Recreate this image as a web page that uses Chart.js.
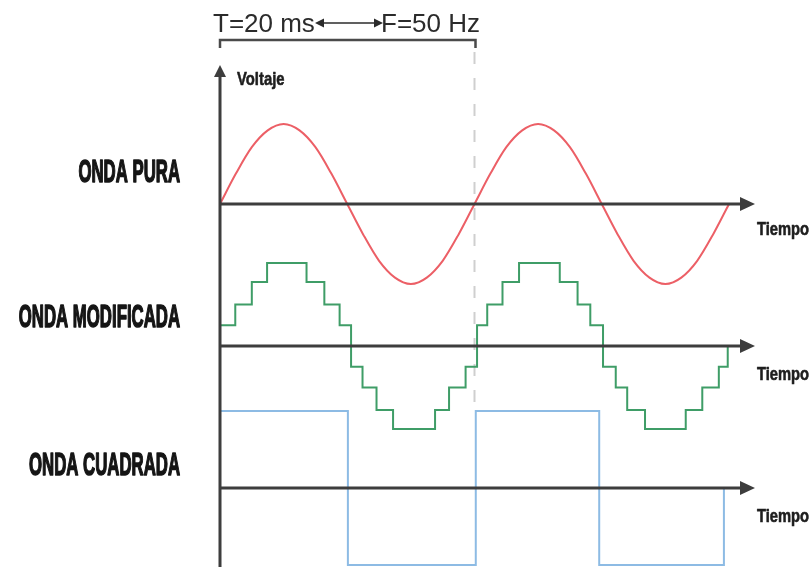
<!DOCTYPE html>
<html>
<head>
<meta charset="utf-8">
<script src="https://cdn.jsdelivr.net/npm/chart.js@4/dist/chart.umd.min.js"></script>
<style>
  html, body { margin: 0; padding: 0; background: #fff; }
  #wrap { width: 812px; height: 567px; position: relative; }
</style>
</head>
<body>
<div id="wrap"><canvas id="waves"></canvas></div>
<script>
// time in ms, values normalised to peak = 1

// pure sine, sampled every 1.25 ms
const sineTimes = [0, 1.25, 2.5, 3.75, 5, 6.25, 7.5, 8.75, 10, 11.25, 12.5, 13.75, 15, 16.25, 17.5, 18.75,
                   20, 21.25, 22.5, 23.75, 25, 26.25, 27.5, 28.75, 30, 31.25, 32.5, 33.75, 35, 36.25, 37.5, 38.75, 40];
const sineValues = [0, 0.38, 0.71, 0.92, 1, 0.92, 0.71, 0.38, 0, -0.38, -0.71, -0.92, -1, -0.92, -0.71, -0.38,
                    0, 0.38, 0.71, 0.92, 1, 0.92, 0.71, 0.38, 0, -0.38, -0.71, -0.92, -1, -0.92, -0.71, -0.38, 0];

// modified (stepped) wave: each level holds from its time until the next one
const stepTimes = [0, 0, 1.2, 2.5, 3.7, 6.8, 8.2, 9.4, 10.3, 11.2, 12.3, 13.6, 16.9, 18.0, 19.3,
                   20.2, 21.0, 22.2, 23.5, 26.7, 28.1, 29.1, 30.1, 31.1, 32.0, 33.4, 36.6, 37.9, 39.2, 39.9];
const stepValues = [0, 0.25, 0.5, 0.77, 1, 0.77, 0.5, 0.25, -0.25, -0.5, -0.77, -1, -0.77, -0.5, -0.25,
                    0.25, 0.5, 0.77, 1, 0.77, 0.5, 0.25, -0.25, -0.5, -0.77, -1, -0.77, -0.5, -0.25, 0];

// square wave
const squareTimes = [0, 0, 10.05, 20.1, 29.8, 39.6];
const squareValues = [0, 1, -1, 1, -1, 0];

const waveLabels = ['ONDA PURA', 'ONDA MODIFICADA', 'ONDA CUADRADA'];
const periodMs = 20;
const topLeftText = 'T=20 ms';
const topRightText = 'F=50 Hz';
const xTitle = 'Tiempo';
const yTitle = 'Voltaje';

const toPoints = (t, v) => t.map((x, i) => ({ x: x, y: v[i] }));

const AXIS = '#3d3d3d';

function arrowHead(ctx, tipX, tipY, dir, len, half) {
    ctx.beginPath();
    if (dir === 'right') {
        ctx.moveTo(tipX, tipY);
        ctx.lineTo(tipX - len, tipY - half);
        ctx.lineTo(tipX - len, tipY + half);
    } else if (dir === 'left') {
        ctx.moveTo(tipX, tipY);
        ctx.lineTo(tipX + len, tipY - half);
        ctx.lineTo(tipX + len, tipY + half);
    } else {
        ctx.moveTo(tipX, tipY);
        ctx.lineTo(tipX - half, tipY + len);
        ctx.lineTo(tipX + half, tipY + len);
    }
    ctx.closePath();
    ctx.fill();
}

// squeezed bold text, stands in for the condensed poster font
function narrowText(ctx, str, x, y, size, sx, align, heavy) {
    ctx.save();
    ctx.font = 'bold ' + size + 'px "Liberation Sans", Arial, sans-serif';
    const w = ctx.measureText(str).width * sx;
    const left = align === 'right' ? x - w : x;
    ctx.translate(left, y);
    ctx.scale(sx, 1);
    ctx.textAlign = 'left';
    ctx.textBaseline = 'alphabetic';
    ctx.fillText(str, 0, 0);
    if (heavy) {
        ctx.strokeStyle = ctx.fillStyle;
        ctx.lineWidth = heavy;
        ctx.lineJoin = 'round';
        ctx.strokeText(str, 0, 0);
    }
    ctx.restore();
}

const diagramPlugin = {
    id: 'diagram',
    beforeDatasetsDraw(chart) {
        const ctx = chart.ctx;
        const xs = chart.scales.x;
        const px = xs.getPixelForValue(periodMs);
        ctx.save();
        ctx.strokeStyle = '#cfcfcf';
        ctx.lineWidth = 2;
        ctx.setLineDash([12, 14]);
        ctx.beginPath();
        ctx.moveTo(px, 52);
        ctx.lineTo(px, 405);
        ctx.stroke();
        ctx.restore();
    },
    afterDatasetsDraw(chart) {
        const ctx = chart.ctx;
        const area = chart.chartArea;
        const xs = chart.scales.x;
        const x0 = xs.getPixelForValue(0);
        const zeros = ['ySine', 'yStep', 'ySquare'].map(id => chart.scales[id].getPixelForValue(0));

        ctx.save();
        ctx.strokeStyle = AXIS;
        ctx.fillStyle = AXIS;
        ctx.lineWidth = 3;

        // vertical axis
        ctx.beginPath();
        ctx.moveTo(x0, area.top + 8);
        ctx.lineTo(x0, area.bottom);
        ctx.stroke();
        arrowHead(ctx, x0, area.top - 1, 'up', 12, 6);

        // time axes
        zeros.forEach(zy => {
            ctx.beginPath();
            ctx.moveTo(x0, zy);
            ctx.lineTo(area.right - 12, zy);
            ctx.stroke();
            arrowHead(ctx, area.right - 2, zy, 'right', 15, 7);
        });

        // bracket over one period
        const p1 = xs.getPixelForValue(periodMs);
        ctx.strokeStyle = '#4a4a4a';
        ctx.lineWidth = 2.5;
        ctx.beginPath();
        ctx.moveTo(x0, 48);
        ctx.lineTo(x0, 40);
        ctx.lineTo(p1 + 1, 40);
        ctx.lineTo(p1 + 1, 48);
        ctx.stroke();

        // top text with double arrow
        ctx.fillStyle = '#2b2b2b';
        ctx.font = '26px "Liberation Sans", Arial, sans-serif';
        ctx.textBaseline = 'alphabetic';
        ctx.textAlign = 'left';
        ctx.fillText(topLeftText, 213, 32);
        ctx.fillText(topRightText, 381, 32);
        ctx.strokeStyle = '#2b2b2b';
        ctx.lineWidth = 1.5;
        ctx.beginPath();
        ctx.moveTo(322, 23);
        ctx.lineTo(376, 23);
        ctx.stroke();
        arrowHead(ctx, 315, 23, 'left', 9, 4.5);
        arrowHead(ctx, 383, 23, 'right', 9, 4.5);

        // axis titles
        ctx.fillStyle = '#1e1e1e';
        narrowText(ctx, yTitle, 237, 85, 19, 0.78, 'left', 0.6);
        zeros.forEach((zy, i) => {
            narrowText(ctx, xTitle, 757, zy + 31 + (i > 0 ? 3 : 0), 17.5, 0.84, 'left', 0.6);
        });

        // wave names on the left
        ctx.fillStyle = '#151515';
        const nameY = [182, 327, 475];
        waveLabels.forEach((lab, i) => {
            narrowText(ctx, lab, 180, nameY[i], 30.5, 0.55, 'right', 1.6);
        });
        ctx.restore();
    }
};

const common = { fill: false, pointRadius: 0, borderWidth: 2, clip: false };

new Chart(document.getElementById('waves'), {
    type: 'line',
    data: {
        datasets: [
            { ...common, label: waveLabels[0], data: toPoints(sineTimes, sineValues),
              borderColor: '#ec5f66', cubicInterpolationMode: 'monotone', yAxisID: 'ySine' },
            { ...common, label: waveLabels[1], data: toPoints(stepTimes, stepValues),
              borderColor: '#3f9d67', stepped: 'before', yAxisID: 'yStep' },
            { ...common, label: waveLabels[2], data: toPoints(squareTimes, squareValues),
              borderColor: '#8dbbe4', stepped: 'before', yAxisID: 'ySquare' }
        ]
    },
    options: {
        responsive: true,
        maintainAspectRatio: false,
        animation: false,
        layout: { padding: { left: 220, right: 55, top: 66, bottom: 0 } },
        scales: {
            x: { type: 'linear', min: 0, max: 42.2, display: false },
            // ranges place each zero line where the picture has it
            ySine: { type: 'linear', min: -4.5375, max: 1.725, display: false },
            yStep: { type: 'linear', min: -2.663, max: 3.373, display: false },
            ySquare: { type: 'linear', min: -1.026, max: 5.481, display: false }
        },
        plugins: {
            legend: { display: false },
            tooltip: { enabled: false }
        }
    },
    plugins: [diagramPlugin]
});
</script>
</body>
</html>
